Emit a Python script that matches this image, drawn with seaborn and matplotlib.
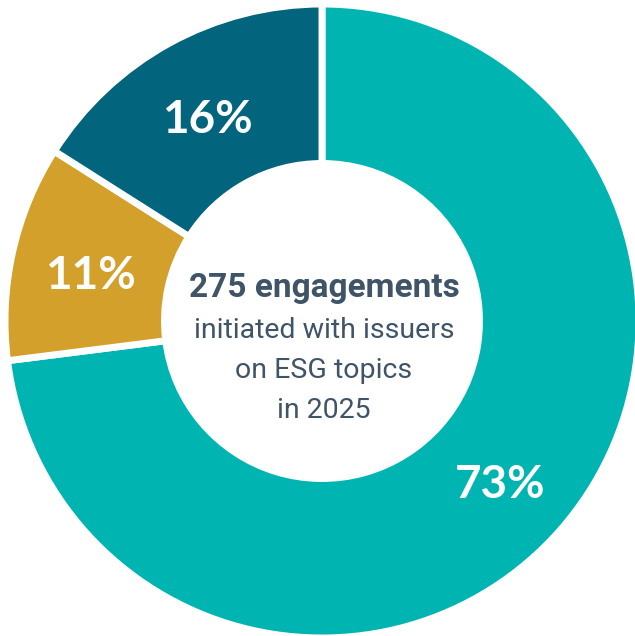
import matplotlib
matplotlib.use("Agg")
import matplotlib.pyplot as plt
import numpy as np
import seaborn as sns

# Share of ESG engagements by category
categories = ["Category A", "Category B", "Category C"]
shares = [73, 11, 16]
labels = ["73%", "11%", "16%"]
colors = ["#00B5B1", "#D4A02C", "#02657D"]

headline = "275 engagements"
subtitle = ["initiated with issuers", "on ESG topics", "in 2025"]

sns.set_theme(style="white")

W, H = 635, 636
fig = plt.figure(figsize=(W / 100, H / 100), dpi=100)
ax = fig.add_axes([0, 0, 1, 1])

cx, cy = 322, H - 321
outer_r = 317
ring_w = 159.5

wedges, _ = ax.pie(
    shares,
    colors=colors,
    startangle=90,
    counterclock=False,
    radius=outer_r,
    center=(cx, cy),
    wedgeprops=dict(width=ring_w, edgecolor="white", linewidth=5),
    frame=True,
)
ax.set_xlim(0, W)
ax.set_ylim(0, H)
ax.set_aspect("equal")
ax.axis("off")

# Percentage labels sit in the middle of each ring segment
mid_r = outer_r - ring_w / 2
for w, lab in zip(wedges, labels):
    ang = np.deg2rad((w.theta1 + w.theta2) / 2)
    ax.text(cx + mid_r * np.cos(ang), cy + mid_r * np.sin(ang) - 20, lab,
            ha="center", va="baseline", color="white", fontsize=33,
            fontweight="bold", family="Lato")

text_color = "#3F5467"
ax.text(cx + 2, H - 297, headline, ha="center", va="baseline",
        color=text_color, fontsize=24, fontweight="bold", family="Roboto")
for i, line in enumerate(subtitle):
    ax.text(cx + 2, H - (338 + 40 * i), line, ha="center", va="baseline",
            color=text_color, fontsize=20.5, family="Roboto")

fig.savefig("out.png", dpi=100)
